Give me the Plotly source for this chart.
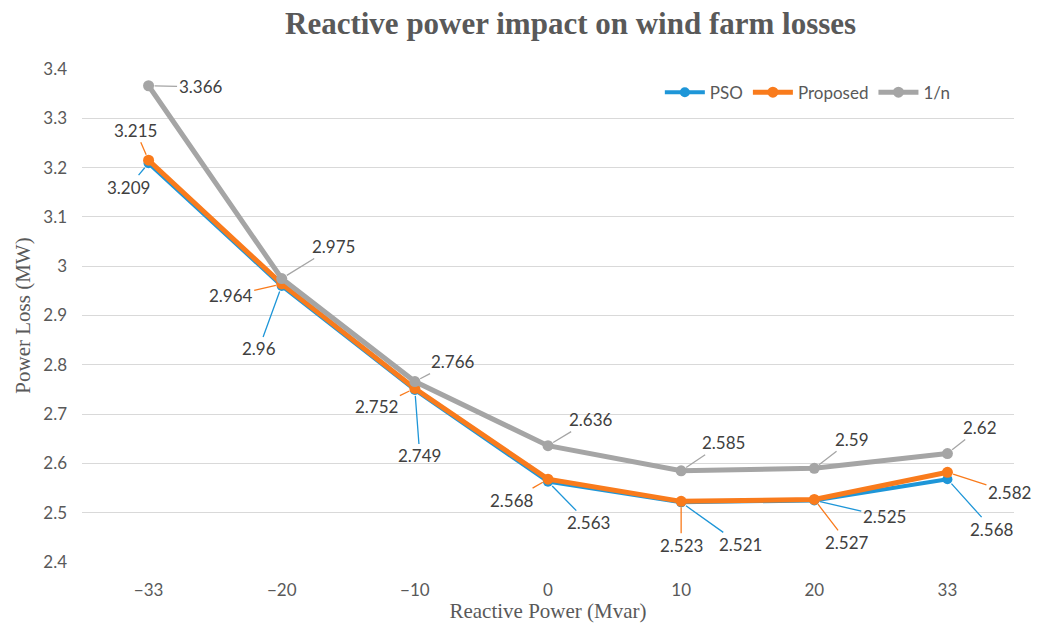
import plotly.graph_objects as go

categories = ["\u221233", "\u221220", "\u221210", "0", "10", "20", "33"]
pso = [3.209, 2.96, 2.749, 2.563, 2.521, 2.525, 2.568]
proposed = [3.215, 2.964, 2.752, 2.568, 2.523, 2.527, 2.582]
one_over_n = [3.366, 2.975, 2.766, 2.636, 2.585, 2.59, 2.62]
y_tick_vals = [2.4, 2.5, 2.6, 2.7, 2.8, 2.9, 3.0, 3.1, 3.2, 3.3, 3.4]
y_tick_labels = ["2.4", "2.5", "2.6", "2.7", "2.8", "2.9", "3", "3.1", "3.2", "3.3", "3.4"]

# label offsets (pixels) relative to each point
pso_off = [(-20, 24), (-23, 63), (5, 66), (40, 41), (59, 42), (70, 16), (45, 50)]
prop_off = [(-13, -30), (-51, 12), (-38, 18), (-36, 21), (0, 44), (33, 43), (62, 20)]
n_off = [(52, 1), (52, -32), (38, -20), (43, -26), (42, -28), (38, -29), (33, -26)]

C_PSO = "#1E96D8"
C_PROP = "#F97B1C"
C_N = "#A5A5A5"

fig = go.Figure()
fig.add_trace(go.Scatter(x=categories, y=pso, name="PSO", mode="lines+markers",
                         line=dict(color=C_PSO, width=4), marker=dict(size=10, color=C_PSO)))
fig.add_trace(go.Scatter(x=categories, y=proposed, name="Proposed", mode="lines+markers",
                         line=dict(color=C_PROP, width=5), marker=dict(size=11, color=C_PROP)))
fig.add_trace(go.Scatter(x=categories, y=one_over_n, name="1/n", mode="lines+markers",
                         line=dict(color=C_N, width=5), marker=dict(size=11, color=C_N)))

label_font = dict(family="Lato, Carlito, sans-serif", size=17, color="#404040")
for series, offs, col in [(pso, pso_off, C_PSO), (proposed, prop_off, C_PROP), (one_over_n, n_off, C_N)]:
    for i, (v, (dx, dy)) in enumerate(zip(series, offs)):
        fig.add_annotation(x=i, y=v, text=f"{v:g}", showarrow=True, ax=dx, ay=dy,
                           arrowhead=0, arrowwidth=1.3, arrowcolor=col, standoff=6,
                           font=label_font)

fig.update_layout(
    width=1047, height=623,
    margin=dict(l=82, r=33, t=69, b=61),
    plot_bgcolor="white", paper_bgcolor="white",
    title=dict(text="<b>Reactive power impact on wind farm losses</b>",
               font=dict(family="Liberation Serif, Times New Roman, serif", size=31, color="#595959"),
               x=0.545, xanchor="center", y=0.963, yanchor="middle"),
    legend=dict(orientation="h", x=0.62, xanchor="left", y=0.952, yanchor="middle",
                font=dict(family="Lato, sans-serif", size=17, color="#595959"),
                bgcolor="rgba(0,0,0,0)", tracegroupgap=0, itemwidth=40),
    xaxis=dict(type="category", range=[-0.5, 6.5], showgrid=False, zeroline=False, showline=False,
               automargin=False,
               tickfont=dict(family="Lato, sans-serif", size=17, color="#595959"),
               ticklabelstandoff=16,
               title=dict(text="Reactive Power (Mvar)", standoff=4,
                          font=dict(family="Liberation Serif, Times New Roman, serif", size=21, color="#595959"))),
    yaxis=dict(range=[2.4, 3.4], tickvals=y_tick_vals, ticktext=y_tick_labels,
               showgrid=True, gridcolor="#D9D9D9", gridwidth=1.3, zeroline=False, showline=False,
               automargin=False,
               tickfont=dict(family="Lato, sans-serif", size=17, color="#595959"),
               ticklabelstandoff=14,
               title=dict(text="Power Loss (MW)", standoff=6,
                          font=dict(family="Liberation Serif, Times New Roman, serif", size=21, color="#595959"))),
    showlegend=True,
)

fig.write_html("out.html")
